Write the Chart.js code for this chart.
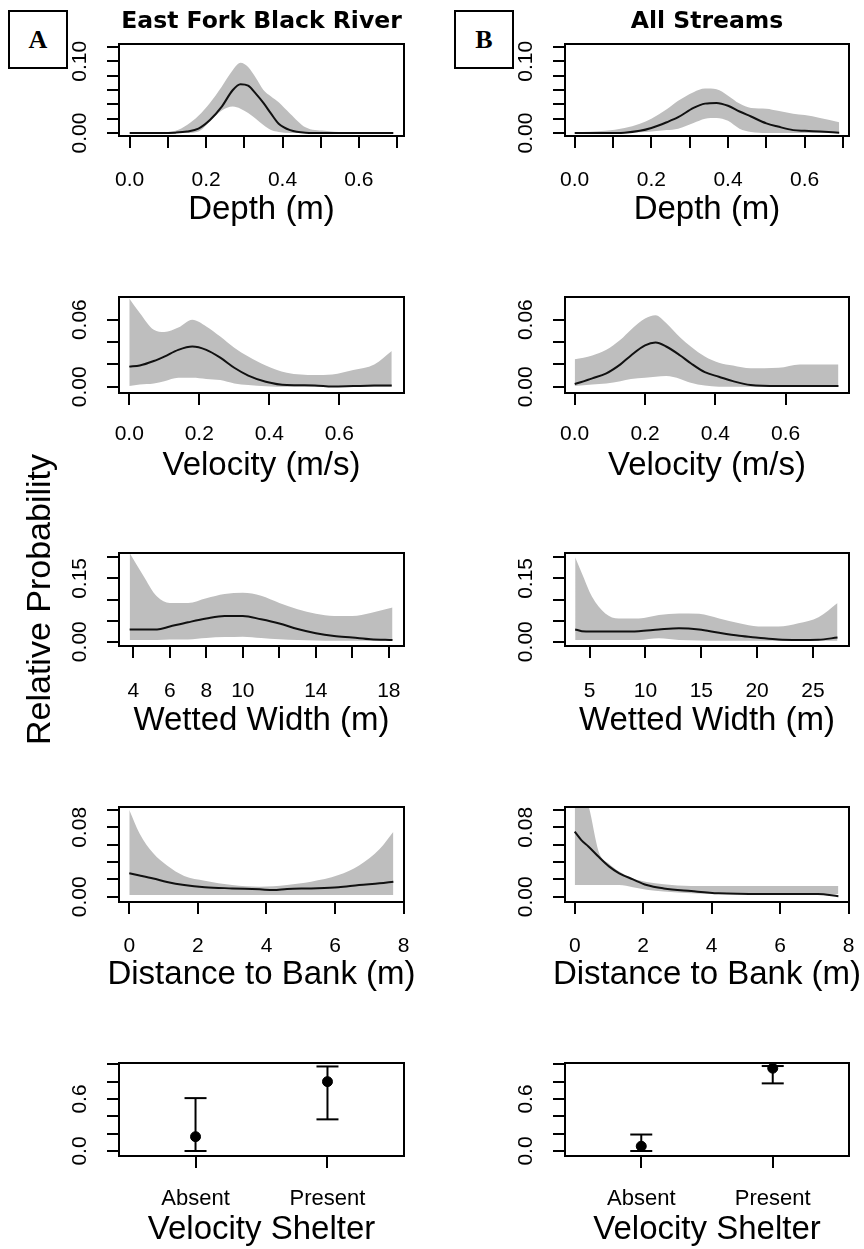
<!DOCTYPE html>
<html>
<head>
<meta charset="utf-8">
<title>Relative probability by habitat variable</title>
<script src="https://cdn.jsdelivr.net/npm/chart.js@4.4.1/dist/chart.umd.min.js"></script>
<style>
  html, body { margin: 0; padding: 0; background: #fff; }
  body { position: relative; width: 864px; height: 1249px; overflow: hidden; }
  canvas { position: absolute; }
  .tag {
    position: absolute; top: 10px; width: 56px; height: 55px;
    border: 2px solid #000; color: #000;
    font: bold 26px "Liberation Serif", "Times New Roman", serif;
    display: flex; align-items: center; justify-content: center;
  }
</style>
</head>
<body>
<div class="tag" style="left:8px">A</div>
<div class="tag" style="left:454px">B</div>
<script>
// ---- Depth (m)
const depthTicks = [0, 0.1, 0.2, 0.3, 0.4, 0.5, 0.6, 0.7];
const depthTickLabels = ['0.0', '', '0.2', '', '0.4', '', '0.6', ''];
const depthYTicks = [0, 0.02, 0.04, 0.06, 0.08, 0.10, 0.12];
const depthYLabels = ['0.00', '', '', '', '', '0.10', ''];

const depthA_x    = [0, 0.08, 0.12, 0.15, 0.18, 0.21, 0.24, 0.27, 0.29, 0.31, 0.33, 0.35, 0.37, 0.39, 0.42, 0.46, 0.51, 0.56, 0.62, 0.69];
const depthA_mean = [0, 0, 0.0005, 0.002, 0.006, 0.018, 0.036, 0.060, 0.068, 0.066, 0.055, 0.042, 0.027, 0.013, 0.004, 0.0005, 0, 0, 0, 0];
const depthA_hi   = [0, 0.001, 0.003, 0.011, 0.024, 0.042, 0.064, 0.088, 0.098, 0.092, 0.077, 0.060, 0.051, 0.043, 0.027, 0.008, 0.003, 0.001, 0, 0];
const depthA_lo   = [0, 0, 0, 0, 0.002, 0.016, 0.031, 0.037, 0.034, 0.028, 0.020, 0.011, 0.004, 0.0015, 0, 0, 0, 0, 0, 0];

const depthB_x    = [0, 0.08, 0.13, 0.17, 0.2, 0.24, 0.27, 0.31, 0.34, 0.37, 0.40, 0.43, 0.46, 0.50, 0.53, 0.57, 0.60, 0.64, 0.69];
const depthB_mean = [0, 0, 0.0005, 0.003, 0.007, 0.015, 0.022, 0.035, 0.041, 0.042, 0.038, 0.030, 0.023, 0.0135, 0.009, 0.004, 0.003, 0.002, 0.0005];
const depthB_hi   = [0.001, 0.003, 0.007, 0.013, 0.020, 0.033, 0.045, 0.057, 0.062, 0.061, 0.052, 0.041, 0.035, 0.034, 0.031, 0.027, 0.025, 0.021, 0.015];
const depthB_lo   = [0, 0, 0, 0.001, 0.002, 0.004, 0.006, 0.014, 0.020, 0.021, 0.017, 0.006, 0.0015, 0, 0, 0, 0, 0, 0];

// ---- Velocity (m/s)
const velTicks = [0, 0.2, 0.4, 0.6];
const velTickLabels = ['0.0', '0.2', '0.4', '0.6'];
const velYTicks = [0, 0.02, 0.04, 0.06];
const velYLabels = ['0.00', '', '', '0.06'];

const velA_x    = [0, 0.03, 0.07, 0.10, 0.14, 0.18, 0.22, 0.26, 0.30, 0.34, 0.39, 0.45, 0.53, 0.58, 0.64, 0.70, 0.75];
const velA_mean = [0.018, 0.019, 0.023, 0.027, 0.033, 0.036, 0.033, 0.026, 0.017, 0.010, 0.0045, 0.0015, 0.0012, 0.0002, 0.0006, 0.001, 0.0012];
const velA_hi   = [0.079, 0.066, 0.051, 0.049, 0.053, 0.060, 0.054, 0.045, 0.035, 0.027, 0.019, 0.0125, 0.0105, 0.011, 0.015, 0.020, 0.032];
const velA_lo   = [0.0006, 0.002, 0.003, 0.005, 0.008, 0.008, 0.007, 0.006, 0.003, 0.0015, 0.0005, 0, 0, 0, 0, 0, 0];

const velB_x    = [0, 0.05, 0.09, 0.13, 0.16, 0.2, 0.23, 0.26, 0.3, 0.33, 0.37, 0.41, 0.45, 0.5, 0.58, 0.64, 0.75];
const velB_mean = [0.0024, 0.0075, 0.012, 0.020, 0.028, 0.037, 0.0395, 0.036, 0.028, 0.021, 0.013, 0.009, 0.005, 0.0015, 0.0006, 0.0006, 0.0006];
const velB_hi   = [0.0245, 0.028, 0.033, 0.042, 0.051, 0.061, 0.064, 0.057, 0.044, 0.036, 0.027, 0.0215, 0.019, 0.0165, 0.017, 0.020, 0.020];
const velB_lo   = [0.0006, 0.002, 0.003, 0.005, 0.007, 0.008, 0.009, 0.0095, 0.007, 0.0035, 0.001, 0, 0, 0, 0, 0, 0];

// ---- Wetted Width (m)
const widthATicks = [4, 6, 8, 10, 12, 14, 16, 18];
const widthATickLabels = ['4', '6', '8', '10', '', '14', '', '18'];
const widthBTicks = [5, 10, 15, 20, 25];
const widthBTickLabels = ['5', '10', '15', '20', '25'];
const widthYTicks = [0, 0.05, 0.10, 0.15, 0.20];
const widthYLabels = ['0.00', '', '', '0.15', ''];

const widthA_x    = [3.8, 4.5, 5.3, 6, 7, 8, 9, 10, 11, 12, 13, 14, 15, 16, 17, 18.2];
const widthA_mean = [0.029, 0.029, 0.029, 0.036, 0.046, 0.055, 0.061, 0.061, 0.053, 0.043, 0.030, 0.020, 0.0135, 0.010, 0.006, 0.004];
const widthA_hi   = [0.21, 0.16, 0.107, 0.092, 0.092, 0.103, 0.113, 0.116, 0.109, 0.092, 0.077, 0.066, 0.061, 0.061, 0.068, 0.081];
const widthA_lo   = [0.004, 0.004, 0.004, 0.005, 0.0055, 0.009, 0.011, 0.012, 0.009, 0.006, 0.004, 0.003, 0.002, 0.002, 0.002, 0.002];

const widthB_x    = [3.7, 4.3, 5.2, 6.4, 7.6, 9.4, 11.2, 13, 14.8, 16.6, 18.4, 20.1, 21.9, 23.7, 25.5, 27.2];
const widthB_mean = [0.029, 0.025, 0.024, 0.024, 0.024, 0.025, 0.029, 0.032, 0.029, 0.021, 0.014, 0.0095, 0.005, 0.004, 0.0045, 0.010];
const widthB_hi   = [0.20, 0.162, 0.107, 0.067, 0.055, 0.055, 0.063, 0.067, 0.066, 0.055, 0.0435, 0.036, 0.036, 0.0435, 0.058, 0.092];
const widthB_lo   = [0.004, 0.004, 0.004, 0.004, 0.004, 0.004, 0.008, 0.004, 0.003, 0.002, 0.002, 0.002, 0.002, 0.002, 0.002, 0.002];

// ---- Distance to Bank (m)
const bankTicks = [0, 2, 4, 6, 8];
const bankTickLabels = ['0', '2', '4', '6', '8'];
const bankYTicks = [0, 0.02, 0.04, 0.06, 0.08, 0.10];
const bankYLabels = ['0.00', '', '', '', '0.08', ''];

const bankA_x    = [0, 0.3, 0.7, 1.1, 1.6, 2.2, 3, 3.8, 4.2, 4.6, 5.3, 6.1, 6.7, 7.3, 7.7];
const bankA_mean = [0.027, 0.0245, 0.021, 0.017, 0.0135, 0.011, 0.0096, 0.0085, 0.0077, 0.009, 0.0096, 0.0108, 0.0135, 0.0154, 0.0173];
const bankA_hi   = [0.100, 0.073, 0.050, 0.036, 0.024, 0.0185, 0.0135, 0.0115, 0.012, 0.0135, 0.0173, 0.025, 0.036, 0.055, 0.075];
const bankA_lo   = [0.002, 0.002, 0.002, 0.002, 0.002, 0.002, 0.002, 0.002, 0.002, 0.002, 0.002, 0.002, 0.002, 0.002, 0.002];

const bankB_x    = [0, 0.2, 0.4, 0.7, 1.0, 1.3, 1.7, 2.1, 2.6, 3.4, 4.2, 5.5, 7.1, 7.7];
const bankB_mean = [0.075, 0.065, 0.058, 0.046, 0.035, 0.027, 0.020, 0.0135, 0.0096, 0.0065, 0.0039, 0.0031, 0.0031, 0.0005];
const bankB_hi   = [0.13, 0.12, 0.105, 0.052, 0.038, 0.029, 0.021, 0.017, 0.0145, 0.0125, 0.0123, 0.0123, 0.0123, 0.0123];
const bankB_lo   = [0.0135, 0.0135, 0.0135, 0.0135, 0.0135, 0.0135, 0.011, 0.008, 0.006, 0.004, 0.003, 0.003, 0.003, 0.003];

// ---- Velocity Shelter
const shelterCats = ['Absent', 'Present'];
const shelterPos = [1, 2];
const shelterYTicks = [0, 0.2, 0.4, 0.6, 0.8, 1.0];
const shelterYLabels = ['0.0', '', '', '0.6', '', ''];
const shelterA_mean = [0.165, 0.80];
const shelterA_lo   = [0.0, 0.365];
const shelterA_hi   = [0.61, 0.975];
const shelterB_mean = [0.055, 0.955];
const shelterB_lo   = [0.0, 0.78];
const shelterB_hi   = [0.19, 0.98];

// layout of the plot boxes on the page
const rows = [
  { top: 44,   bottom: 136,  tickPad: 20,   gap: 59 },
  { top: 297,  bottom: 393,  tickPad: 16.5, gap: 58.5 },
  { top: 553,  bottom: 646,  tickPad: 21,   gap: 60.5 },
  { top: 807,  bottom: 902,  tickPad: 19.5, gap: 58.5 },
  { top: 1063, bottom: 1156, tickPad: 17.5, gap: 59 }
];
const cols = [
  { x: 0,   left: 119, right: 404 },
  { x: 432, left: 565, right: 849 }
];

const panels = [
  { row: 0, col: 0, title: 'East Fork Black River', caption: 'Depth (m)',
    xs: depthA_x, mean: depthA_mean, lo: depthA_lo, hi: depthA_hi,
    x: [-0.028, 0.718], xTicks: depthTicks, xLabels: depthTickLabels,
    y: [-0.0042, 0.1242], yTicks: depthYTicks, yLabels: depthYLabels },
  { row: 0, col: 1, title: 'All Streams', caption: 'Depth (m)',
    xs: depthB_x, mean: depthB_mean, lo: depthB_lo, hi: depthB_hi,
    x: [-0.0253, 0.7156], xTicks: depthTicks, xLabels: depthTickLabels,
    y: [-0.0042, 0.1242], yTicks: depthYTicks, yLabels: depthYLabels },
  { row: 1, col: 0, caption: 'Velocity (m/s)',
    xs: velA_x, mean: velA_mean, lo: velA_lo, hi: velA_hi,
    x: [-0.0294, 0.785], xTicks: velTicks, xLabels: velTickLabels,
    y: [-0.0056, 0.0803], yTicks: velYTicks, yLabels: velYLabels },
  { row: 1, col: 1, caption: 'Velocity (m/s)',
    xs: velB_x, mean: velB_mean, lo: velB_lo, hi: velB_hi,
    x: [-0.0276, 0.78], xTicks: velTicks, xLabels: velTickLabels,
    y: [-0.0056, 0.0803], yTicks: velYTicks, yLabels: velYLabels },
  { row: 2, col: 0, caption: 'Wetted Width (m)', yTitle: 'Relative Probability',
    xs: widthA_x, mean: widthA_mean, lo: widthA_lo, hi: widthA_hi,
    x: [3.216, 18.83], xTicks: widthATicks, xLabels: widthATickLabels,
    y: [-0.0102, 0.2102], yTicks: widthYTicks, yLabels: widthYLabels },
  { row: 2, col: 1, caption: 'Wetted Width (m)',
    xs: widthB_x, mean: widthB_mean, lo: widthB_lo, hi: widthB_hi,
    x: [2.79, 28.23], xTicks: widthBTicks, xLabels: widthBTickLabels,
    y: [-0.0102, 0.2102], yTicks: widthYTicks, yLabels: widthYLabels },
  { row: 3, col: 0, caption: 'Distance to Bank (m)',
    xs: bankA_x, mean: bankA_mean, lo: bankA_lo, hi: bankA_hi,
    x: [-0.3, 8.01], xTicks: bankTicks, xLabels: bankTickLabels,
    y: [-0.0061, 0.1035], yTicks: bankYTicks, yLabels: bankYLabels },
  { row: 3, col: 1, caption: 'Distance to Bank (m)',
    xs: bankB_x, mean: bankB_mean, lo: bankB_lo, hi: bankB_hi,
    x: [-0.284, 8.01], xTicks: bankTicks, xLabels: bankTickLabels,
    y: [-0.0061, 0.1035], yTicks: bankYTicks, yLabels: bankYLabels },
  { row: 4, col: 0, caption: 'Velocity Shelter', points: true,
    mean: shelterA_mean, lo: shelterA_lo, hi: shelterA_hi,
    x: [0.42, 2.58], xTicks: shelterPos, xLabels: shelterCats,
    y: [-0.0577, 1.015], yTicks: shelterYTicks, yLabels: shelterYLabels },
  { row: 4, col: 1, caption: 'Velocity Shelter', points: true,
    mean: shelterB_mean, lo: shelterB_lo, hi: shelterB_hi,
    x: [0.42, 2.58], xTicks: shelterPos, xLabels: shelterCats,
    y: [-0.0577, 1.015], yTicks: shelterYTicks, yLabels: shelterYLabels }
];

Chart.defaults.font.family = "'Liberation Sans', Arial, sans-serif";
Chart.defaults.color = '#000';

const BAND = '#bebebe';
const TICK_FONT = 21;

// box around the plotting region, like R's bty="o"
const framePlugin = {
  id: 'frame',
  afterDraw(chart) {
    const { ctx, chartArea: a } = chart;
    ctx.save();
    ctx.strokeStyle = '#000';
    ctx.lineWidth = 2;
    ctx.strokeRect(a.left, a.top, a.right - a.left, a.bottom - a.top);
    ctx.restore();
  }
};

// x axis caption, drawn without the axis-width squeeze of the built-in title
const captionPlugin = {
  id: 'caption',
  afterDraw(chart, args, opts) {
    if (!opts.text) return;
    const { ctx, chartArea: a } = chart;
    ctx.save();
    ctx.font = "33px 'Liberation Sans', Arial, sans-serif";
    ctx.fillStyle = '#000';
    ctx.textAlign = 'center';
    ctx.textBaseline = 'alphabetic';
    ctx.fillText(opts.text, (a.left + a.right) / 2, a.bottom + opts.gap + 23.6);
    ctx.restore();
  }
};

const measure = document.createElement('canvas').getContext('2d');
measure.font = TICK_FONT + "px 'Liberation Sans'";

function pts(xs, ys) {
  return xs.map((x, i) => ({ x, y: ys[i] }));
}

function bandDatasets(p) {
  const common = { pointRadius: 0, cubicInterpolationMode: 'monotone' };
  return [
    { ...common, data: pts(p.xs, p.mean), borderColor: '#111', borderWidth: 2, fill: false },
    { ...common, data: pts(p.xs, p.hi), borderColor: 'rgba(0,0,0,0)', borderWidth: 1,
      backgroundColor: BAND, fill: '+1' },
    { ...common, data: pts(p.xs, p.lo), borderColor: 'rgba(0,0,0,0)', borderWidth: 1, fill: false }
  ];
}

function pointDatasets(p) {
  const means = {
    data: pts(shelterPos, p.mean), showLine: false,
    pointRadius: 5, pointBackgroundColor: '#000', pointBorderColor: '#000', pointBorderWidth: 1
  };
  const bars = shelterPos.map((x, i) => ({
    data: [{ x, y: p.lo[i] }, { x, y: p.hi[i] }],
    borderColor: '#000', borderWidth: 2, fill: false,
    pointStyle: 'line', pointRadius: 11, pointBorderColor: '#000', pointBorderWidth: 2
  }));
  return [means, ...bars];
}

function gridOpts() {
  return { drawOnChartArea: false, drawTicks: true, tickLength: 12, color: '#000', lineWidth: 2 };
}

function buildPanel(p) {
  const row = rows[p.row], col = cols[p.col];
  // the panel carrying the shared y title needs a taller canvas so the text is not cut
  const above = p.row === 0 ? row.top : (p.yTitle ? 170 : 30);
  const below = p.yTitle ? 120 : 95;
  const top = row.top - above;
  const left = col.x;
  const w = col.right - left + 60;
  const h = row.bottom - top + below;

  const canvas = document.createElement('canvas');
  canvas.width = w;
  canvas.height = h;
  canvas.style.left = left + 'px';
  canvas.style.top = top + 'px';
  canvas.style.width = w + 'px';
  canvas.style.height = h + 'px';
  document.body.appendChild(canvas);

  const widest = Math.max(...p.yLabels.map(s => measure.measureText(s).width));
  const xFont = p.points ? 22 : TICK_FONT;

  new Chart(canvas, {
    type: 'line',
    data: { datasets: p.points ? pointDatasets(p) : bandDatasets(p) },
    options: {
      responsive: false,
      animation: false,
      events: [],
      layout: { padding: { left: 0, right: w - (col.right - left), top: p.row === 0 ? 0 : above, bottom: 0 } },
      scales: {
        x: {
          type: 'linear', min: p.x[0], max: p.x[1],
          afterBuildTicks: s => { s.ticks = p.xTicks.map(v => ({ value: v })); },
          afterFit: s => { s.height = below; },
          grid: gridOpts(),
          border: { display: false },
          ticks: {
            autoSkip: false, maxRotation: 0, padding: row.tickPad,
            font: { size: xFont }, color: '#000',
            callback: (v, i) => p.xLabels[i]
          }
        },
        y: {
          type: 'linear', min: p.y[0], max: p.y[1],
          afterBuildTicks: s => { s.ticks = p.yTicks.map(v => ({ value: v })); },
          afterFit: s => { s.width = col.left - left; },
          grid: gridOpts(),
          border: { display: false },
          ticks: {
            autoSkip: false, minRotation: 90, maxRotation: 90, crossAlign: 'center',
            padding: 39 - 12 - widest / 2,
            font: { size: TICK_FONT }, color: '#000',
            callback: (v, i) => p.yLabels[i]
          },
          title: {
            display: !!p.yTitle, text: p.yTitle || '', color: '#000',
            font: { size: 34 }, padding: { top: 20.6, bottom: 0 }
          }
        }
      },
      plugins: {
        legend: { display: false },
        tooltip: { enabled: false },
        title: {
          display: !!p.title, text: p.title || '', fullSize: false, color: '#000',
          font: { family: "'DejaVu Sans', Verdana, sans-serif", size: 23.5, weight: 'bold', lineHeight: 1 },
          padding: { top: 10.25, bottom: 10.25 }
        },
        caption: { text: p.caption, gap: row.gap }
      }
    },
    plugins: [framePlugin, captionPlugin]
  });
}

panels.forEach(buildPanel);
</script>
</body>
</html>
